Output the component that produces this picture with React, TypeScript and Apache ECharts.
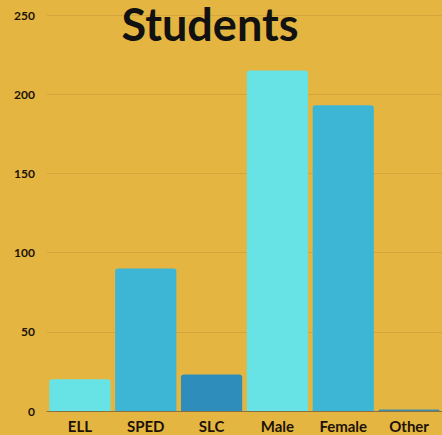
import React, { useEffect, useRef } from "react";
import * as echarts from "echarts";

const categories = ["ELL", "SPED", "SLC", "Male", "Female", "Other"];
const values = [20, 90, 23, 215, 193, 1];
const barColors = ["#68E3E5", "#3DB6D6", "#2E8DBA", "#68E3E5", "#3DB6D6", "#3A8FB0"];
const yTicks = [0, 50, 100, 150, 200, 250];
const titleText = "Students";

export default function App() {
  const ref = useRef<HTMLDivElement>(null);
  useEffect(() => {
    const chart = echarts.init(ref.current!, null, { renderer: "svg" });
    chart.setOption({
      animation: false,
      backgroundColor: "#E4B540",
      grid: { left: 47, right: -7, top: 15, bottom: 24, containLabel: false },
      graphic: [
        {
          type: "text",
          x: 210,
          y: 24,
          style: {
            text: titleText,
            font: "bold 45px Lato",
            lineHeight: 46,
            fill: "#111",
            textAlign: "center",
            textVerticalAlign: "middle",
          },
          z: 10,
        },
      ],
      xAxis: {
        type: "category",
        data: categories,
        axisLine: { show: true, lineStyle: { color: "#8a7040", width: 1 } },
        axisTick: { show: false },
        axisLabel: {
          color: "#1c1208",
          fontFamily: "Lato",
          fontWeight: "bold",
          fontSize: 15,
          margin: 7,
        },
      },
      yAxis: {
        type: "value",
        min: yTicks[0],
        max: yTicks[yTicks.length - 1],
        interval: 50,
        axisLine: { show: false },
        axisTick: { show: false },
        axisLabel: {
          color: "#1c1208",
          fontFamily: "Lato",
          fontWeight: "bold",
          fontSize: 12,
          margin: 12,
        },
        splitLine: { lineStyle: { color: "#D3A53C", width: 1 } },
      },
      series: [
        {
          type: "bar",
          data: values.map((v, i) => ({ value: v, itemStyle: { color: barColors[i] } })),
          barCategoryGap: "7%",
          itemStyle: { borderRadius: [3, 3, 0, 0] },
        },
      ],
    });
    return () => chart.dispose();
  }, []);
  return (
    <div
      ref={ref}
      style={{ position: "fixed", left: 0, top: 0, width: 442, height: 435 }}
    />
  );
}
